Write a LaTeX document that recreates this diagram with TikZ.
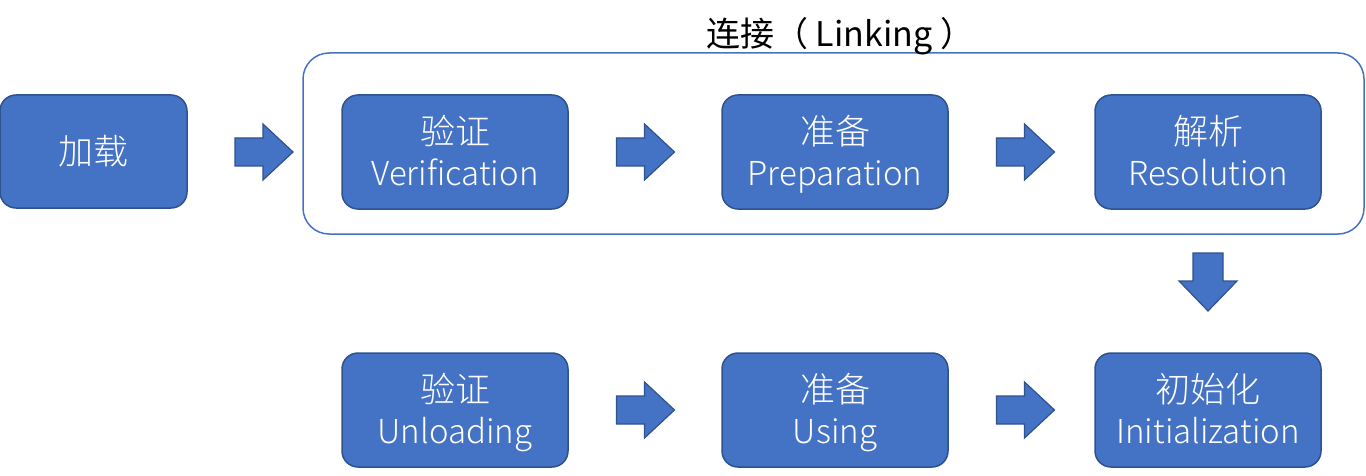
\documentclass[tikz,border=0pt]{standalone}
\usepackage{fontspec}
\usetikzlibrary{calc}
\newfontfamily\cjk{Noto Sans CJK SC}
\newfontfamily\cjklight{Noto Sans CJK SC Light}
\definecolor{boxfill}{HTML}{4472C4}
\definecolor{boxedge}{HTML}{2F528F}
\newcommand\stage[5]{%
  \node[stagebox] (#1) at (#2,#3) {};
  \node[cntext] (#1-cn) at ($(#1.north)+(0,50.5)$) {#4};
  \node[entext] (#1-en) at ($(#1.north)+(0,91.5)$) {#5};
}
\begin{document}
\begin{tikzpicture}[x=1pt,y=-1pt,
  stagebox/.style={draw=boxedge, line width=1.5pt, fill=boxfill, rounded corners=16pt,
    minimum width=226pt, minimum height=114pt, inner sep=0pt},
  cntext/.style={anchor=base, inner sep=0pt, text=white, font=\cjklight\fontsize{35}{40}\selectfont},
  entext/.style={anchor=base, inner sep=0pt, text=white, font=\cjklight\fontsize{33}{40}\selectfont},
  blockarrow/.style={draw=boxedge, line width=1.2pt, fill=boxfill, line join=miter},
  rarr/.pic={\path[blockarrow] (-29,-14) -- (-1,-14) -- (-1,-28) -- (29,0) -- (-1,28) -- (-1,14) -- (-29,14) -- cycle;},
  darr/.pic={\path[blockarrow] (-15,-29) -- (15,-29) -- (15,-1) -- (29,-1) -- (0,29) -- (-29,-1) -- (-15,-1) -- cycle;}
]
\useasboundingbox (0,0) rectangle (1366,476);
% container
\node[draw=boxfill, line width=1.5pt, rounded corners=26pt, minimum width=1061pt, minimum height=181pt, inner sep=0pt] (link) at (833.5,143.5) {};
\node[font=\cjk\fontsize{34}{40}\selectfont, anchor=base west, inner sep=0pt] (linktitle) at (706,47) {连接（ Linking ）};
% boxes
\node[stagebox, minimum width=187pt, minimum height=113pt] (load) at (93.5,151.5) {};
\node[cntext] (load-cn) at ($(load.north)+(0,70.5)$) {加载};
\stage{verify}{455}{152}{验证}{Verification}
\stage{prep}{835}{152}{准备}{Preparation}
\stage{resol}{1208}{152}{解析}{Resolution}
\stage{unload}{455}{410}{验证}{Unloading}
\stage{use}{835}{410}{准备}{Using}
\stage{init}{1208}{410}{初始化}{Initialization}
% arrows
\pic (a1) at (264,152) {rarr};
\pic (a2) at (645.5,152) {rarr};
\pic (a3) at (1025.5,152) {rarr};
\pic (a4) at (1208,282) {darr};
\pic (a5) at (645.5,410) {rarr};
\pic (a6) at (1025.5,410) {rarr};
\end{tikzpicture}
\end{document}
